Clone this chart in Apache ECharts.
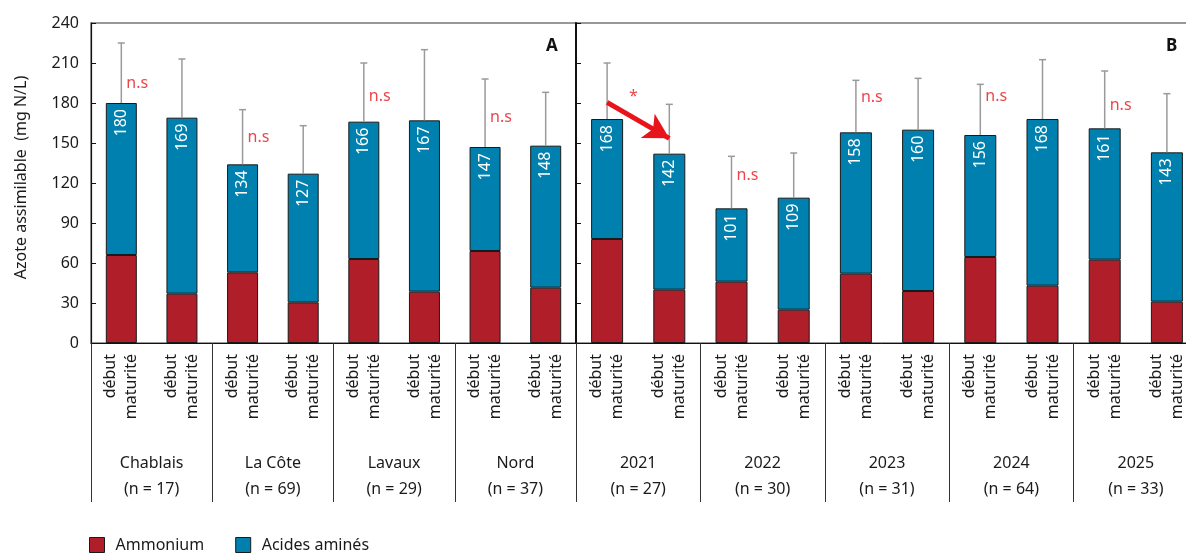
<!DOCTYPE html>
<html>
<head>
<meta charset="utf-8">
<script src="https://cdn.jsdelivr.net/npm/echarts@6/dist/echarts.min.js"></script>
<style>
html,body{margin:0;padding:0;background:#fff;}
#chart{width:1186px;height:554px;}
</style>
</head>
<body>
<div id="chart"></div>
<script>
// ---- data ----
const groupsA = ['Chablais', 'La Côte', 'Lavaux', 'Nord'];
const nA = [17, 69, 29, 37];
const groupsB = ['2021', '2022', '2023', '2024', '2025'];
const nB = [27, 30, 31, 64, 33];
const barTickLabel = 'début\nmaturité';
const yTicks = { min: 0, max: 240, interval: 30 };

const totalA    = [180, 169, 134, 127, 166, 167, 147, 148];
const ammoniumA = [66, 37, 53, 30.5, 63, 38.5, 69, 41.5];
const errTopA   = [225, 213, 175, 163, 210, 220, 198, 188];
const nsA       = [195, null, 154, null, 185, null, 169, null];

const totalB    = [168, 142, 101, 109, 158, 160, 156, 168, 161, 143];
const ammoniumB = [78, 40, 46, 25, 52, 39, 64.5, 43, 62.5, 31];
const errTopB   = [210, 179, 140, 142.5, 197, 198.5, 194, 212.5, 204, 187];
const nsB       = [null, null, 126, null, 184, null, 185, null, 178, null];

const arrowFrom = [0, 180.5];
const arrowTo   = [1, 153.5];
const starPos   = [0, 184.7];
const starText  = '*';

// ---- derived ----
const catsA = groupsA.flatMap(g => [g + '|début', g + '|maturité']);
const catsB = groupsB.flatMap(g => [g + '|début', g + '|maturité']);
const acidA = totalA.map((t, i) => +(t - ammoniumA[i]).toFixed(2));
const acidB = totalB.map((t, i) => +(t - ammoniumB[i]).toFixed(2));

const RED = '#b01e2a', BLUE = '#0080ae', NSRED = '#e8141b', TXT = '#1a1a1a';
const FONT = '"Noto Sans", "Open Sans", sans-serif';

function errRender(params, api) {
  const x = api.value(0);
  const base = api.coord([x, api.value(1)]);
  const top = api.coord([x, api.value(2)]);
  const st = { stroke: '#9a9a9a', lineWidth: 1.5 };
  return {
    type: 'group',
    children: [
      { type: 'line', shape: { x1: base[0], y1: base[1], x2: top[0], y2: top[1] }, style: st },
      { type: 'line', shape: { x1: top[0] - 3.5, y1: top[1], x2: top[0] + 3.5, y2: top[1] }, style: st }
    ]
  };
}

function barXAxis(gridIndex, cats) {
  return {
    type: 'category', gridIndex: gridIndex, data: cats, position: 'bottom',
    axisLine: { show: true, lineStyle: { color: '#111', width: 1 } },
    axisTick: { show: false },
    axisLabel: {
      interval: 0, rotate: 90, margin: 11, formatter: () => barTickLabel,
      fontFamily: FONT, fontSize: 16, lineHeight: 21, color: TXT
    },
    splitLine: { show: false }
  };
}
function groupXAxis(gridIndex, groups, ns) {
  return {
    type: 'category', gridIndex: gridIndex, position: 'bottom',
    data: groups.map((g, i) => g + '\n(n = ' + ns[i] + ')'),
    axisLine: { show: false },
    axisTick: { show: true, length: 159, lineStyle: { color: '#333', width: 1 } },
    axisLabel: {
      interval: 0, margin: 107, fontFamily: FONT, fontSize: 16, lineHeight: 26, color: TXT
    },
    splitLine: { show: false }
  };
}
function yAx(gridIndex, showLabel, lineWidth) {
  return {
    type: 'value', gridIndex: gridIndex, min: yTicks.min, max: yTicks.max, interval: yTicks.interval,
    axisLine: { show: true, lineStyle: { color: '#111', width: lineWidth } },
    axisTick: { show: true, inside: true, length: 5, lineStyle: { color: '#111' } },
    axisLabel: { show: showLabel, margin: 12, fontFamily: FONT, fontSize: 16, color: TXT },
    splitLine: { show: false },
    name: showLabel ? 'Azote assimilable  (mg N/L)' : '',
    nameLocation: 'middle', nameGap: 62,
    nameTextStyle: { fontFamily: FONT, fontSize: 16, color: TXT, padding: [0, 0, 0, 11] }
  };
}
function barSeries(name, data, xi, yi, color, width, totals) {
  const s = {
    name: name, type: 'bar', stack: 'tot' + xi, xAxisIndex: xi, yAxisIndex: yi,
    data: data, barWidth: width,
    itemStyle: { color: color, borderColor: '#1a1a1a', borderWidth: 1 },
    emphasis: { disabled: true }
  };
  if (totals) {
    s.label = {
      show: true, position: 'insideTop', rotate: 90, align: 'right', verticalAlign: 'middle',
      distance: 6, color: '#fff', fontFamily: FONT, fontSize: 16,
      formatter: p => String(totals[p.dataIndex])
    };
  }
  return s;
}
function errSeries(totals, tops, xi, yi, extra) {
  const s = {
    type: 'custom', xAxisIndex: xi, yAxisIndex: yi, renderItem: errRender, z: 3, silent: true,
    encode: { x: 0, y: [1, 2] },
    data: totals.map((t, i) => [i, t, tops[i]])
  };
  return Object.assign(s, extra || {});
}
function nsSeries(ns, xi, yi, star) {
  const data = ns.map((v, i) => v == null ? null : { value: [i, v] }).filter(d => d);
  if (star) {
    data.push({ value: star.pos, label: { formatter: star.text, distance: 22 } });
  }
  return {
    type: 'scatter', xAxisIndex: xi, yAxisIndex: yi, symbolSize: 0, silent: true, z: 4,
    data: data,
    label: {
      show: true, position: 'right', distance: 5, formatter: 'n.s',
      color: NSRED, fontFamily: FONT, fontSize: 16
    }
  };
}

const option = {
  animation: false,
  backgroundColor: '#fff',
  textStyle: { fontFamily: FONT },
  title: [
    { text: 'A', left: 546, top: 38, padding: 0, textStyle: { fontFamily: FONT, fontSize: 17, fontWeight: 'bold', color: '#111' } },
    { text: 'B', left: 1166, top: 38, padding: 0, textStyle: { fontFamily: FONT, fontSize: 17, fontWeight: 'bold', color: '#111' } }
  ],
  legend: {
    data: ['Ammonium', 'Acides aminés'], left: 89, top: 537, icon: 'rect',
    itemWidth: 15, itemHeight: 15, itemGap: 31, padding: 0,
    textStyle: { fontFamily: FONT, fontSize: 16, color: TXT, padding: [0, 0, 0, 6] },
    itemStyle: { borderColor: '#1a1a1a', borderWidth: 1 }
  },
  grid: [
    { left: 91, top: 23, width: 485, height: 320, show: true, borderColor: '#777', borderWidth: 1.5,
      backgroundColor: 'transparent', containLabel: false, outerBoundsMode: 'none' },
    { left: 576, top: 23, width: 622, height: 320, show: true, borderColor: '#777', borderWidth: 1.5,
      backgroundColor: 'transparent', containLabel: false, outerBoundsMode: 'none' }
  ],
  xAxis: [
    barXAxis(0, catsA), groupXAxis(0, groupsA, nA),
    barXAxis(1, catsB), groupXAxis(1, groupsB, nB)
  ],
  yAxis: [yAx(0, true, 1.2), yAx(1, false, 2)],
  series: [
    barSeries('Ammonium', ammoniumA, 0, 0, RED, 31),
    barSeries('Acides aminés', acidA, 0, 0, BLUE, 31, totalA),
    barSeries('Ammonium', ammoniumB, 2, 1, RED, 32),
    barSeries('Acides aminés', acidB, 2, 1, BLUE, 32, totalB),
    errSeries(totalA, errTopA, 0, 0),
    errSeries(totalB, errTopB, 2, 1, {
      markLine: {
        silent: true, symbol: ['none', 'arrow'], symbolSize: 20,
        lineStyle: { color: NSRED, width: 5, type: 'solid' },
        itemStyle: { color: NSRED },
        label: { show: false },
        data: [[
          { coord: arrowFrom, symbol: 'none' },
          { coord: arrowTo, symbol: 'arrow', symbolSize: [21, 25] }
        ]]
      }
    }),
    nsSeries(nsA, 0, 0),
    nsSeries(nsB, 2, 1, { pos: starPos, text: starText })
  ]
};

const chart = echarts.init(document.getElementById('chart'), null, { renderer: 'canvas' });
chart.setOption(option);
</script>
</body>
</html>
